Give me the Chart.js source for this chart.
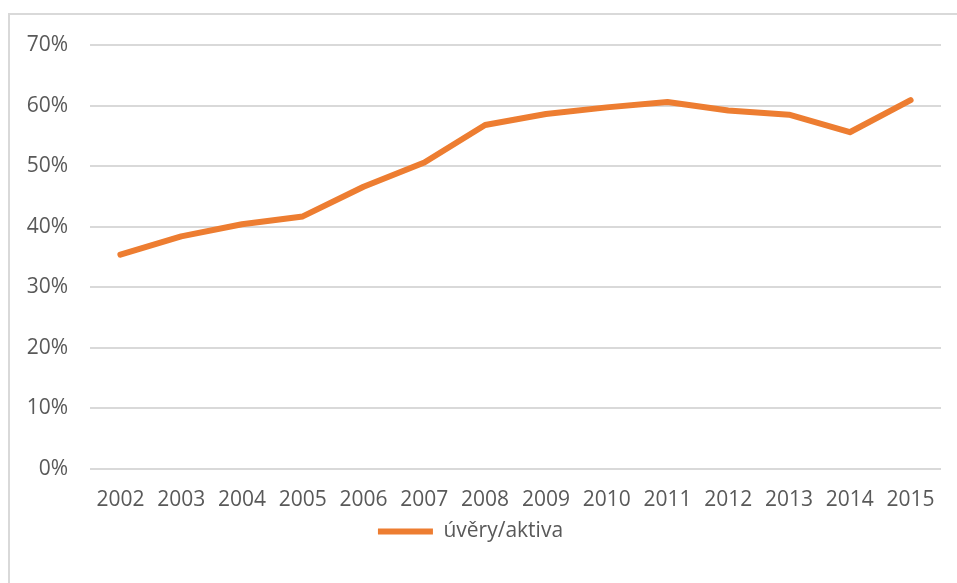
<!DOCTYPE html>
<html>
<head>
<meta charset="utf-8">
<script src="https://cdn.jsdelivr.net/npm/chart.js@4/dist/chart.umd.min.js"></script>
<style>
  html, body { margin: 0; padding: 0; background: #fff; overflow: hidden; }
  #wrap { position: relative; width: 957px; height: 583px; }
  #frame {
    position: absolute; left: 8px; top: 13px; width: 1000px; height: 600px;
    border: 2px solid #d9d9d9; box-sizing: border-box;
  }
  canvas { position: absolute; left: 0; top: 0; }
</style>
</head>
<body>
<div id="wrap">
  <div id="frame"></div>
  <canvas id="chart" width="957" height="583"></canvas>
</div>
<script>
const years = ['2002', '2003', '2004', '2005', '2006', '2007', '2008', '2009', '2010', '2011', '2012', '2013', '2014', '2015'];
const loansToAssets = [35.4, 38.4, 40.4, 41.7, 46.6, 50.6, 56.8, 58.6, 59.7, 60.6, 59.2, 58.5, 55.6, 60.9];
const seriesName = 'úvěry/aktiva';

const orange = '#ed7d31';
const gray = '#595959';
const gridGray = '#d9d9d9';

Chart.defaults.font.family = '"Open Sans", sans-serif';
Chart.defaults.font.size = 21;
Chart.defaults.color = gray;

new Chart(document.getElementById('chart'), {
  type: 'line',
  data: {
    labels: years,
    datasets: [{
      label: seriesName,
      data: loansToAssets,
      borderColor: orange,
      backgroundColor: orange,
      borderWidth: 6,
      borderJoinStyle: 'round',
      borderCapStyle: 'round',
      pointRadius: 0,
      tension: 0
    }]
  },
  options: {
    responsive: false,
    animation: false,
    layout: { padding: { top: 45, right: 16, bottom: 31, left: 0 } },
    scales: {
      x: {
        offset: true,
        grid: { display: false, drawTicks: false },
        border: { display: false },
        ticks: { padding: 18, maxRotation: 0, autoSkip: false },
        // keep the legend tucked up under the year labels
        afterFit: (scale) => { scale.height = 50; }
      },
      y: {
        min: 0,
        max: 70,
        afterFit: (scale) => { scale.width = 90; },
        grid: { color: gridGray, lineWidth: 2, drawTicks: false },
        border: { display: false },
        ticks: {
          stepSize: 10,
          padding: 22,
          callback: (v) => v + '%'
        }
      }
    },
    plugins: {
      tooltip: { enabled: false },
      legend: {
        position: 'bottom',
        labels: {
          boxWidth: 55,
          boxHeight: 6,
          padding: 2,
          generateLabels: (chart) => Chart.defaults.plugins.legend.labels.generateLabels(chart).map(item => {
            item.fillStyle = orange;
            item.lineWidth = 0;
            return item;
          })
        }
      }
    }
  }
});
</script>
</body>
</html>
